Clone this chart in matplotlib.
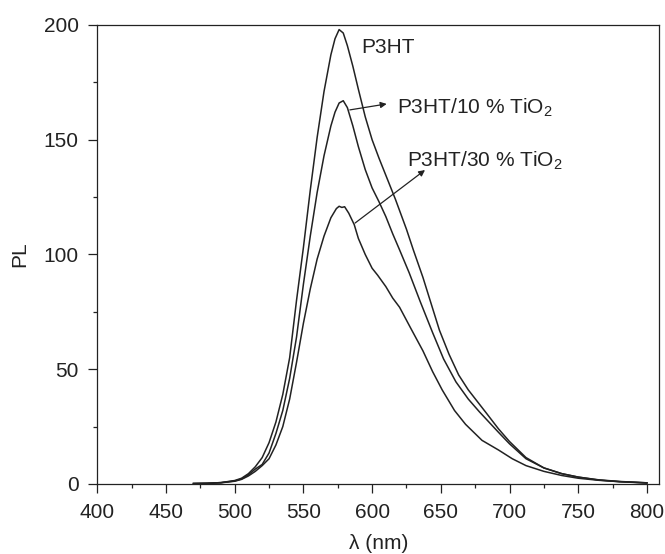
import matplotlib
matplotlib.use("Agg")
import matplotlib.pyplot as plt
from matplotlib.ticker import MultipleLocator

# ======================
# DATA
# ======================
wl_p3ht = [470, 480, 490, 500, 505, 510, 515, 520, 525, 530, 535, 540, 545, 550, 555, 560,
           565, 570, 573, 576, 579, 582, 586, 590, 595, 600, 605, 610, 617, 625, 630, 637,
           643, 649, 656, 663, 670, 683, 692, 700, 712, 725, 738, 750, 765, 780, 800]
pl_p3ht = [0.2, 0.3, 0.6, 1.5, 2.5, 4.5, 7.5, 11.5, 18, 27, 39, 55, 80, 103, 128, 151,
           171, 187, 194, 198, 196.5, 191, 182, 172, 160, 150, 142, 134.5, 124, 111, 102, 90,
           78.5, 67, 56.5, 47.5, 41, 31, 24, 18.5, 11.5, 7, 4.5, 3, 1.8, 1.1, 0.5]

wl_10 = [470, 480, 490, 500, 505, 510, 515, 520, 525, 530, 535, 540, 545, 550, 555, 560,
         565, 570, 573, 576, 579, 582, 586, 590, 595, 600, 605, 610, 615, 620, 627, 635,
         644, 652, 661, 670, 678, 692, 700, 712, 725, 738, 750, 765, 780, 800]
pl_10 = [0.2, 0.3, 0.6, 1.3, 2.2, 4, 6.5, 8.5, 13.5, 22, 32, 46, 64, 87, 108, 127,
         143, 156, 162, 166, 167, 164, 156, 147, 137, 129, 123, 116.5, 109, 102, 92, 79.5,
         66, 54.5, 44.5, 37, 31.5, 22.5, 17.5, 11, 7, 4.5, 3, 1.7, 1, 0.5]

wl_30 = [470, 480, 490, 500, 505, 510, 515, 520, 525, 530, 535, 540, 545, 550, 555, 560,
         565, 570, 574, 576, 578, 580, 583, 587, 590, 595, 600, 604, 610, 615, 620, 628,
         637, 644, 651, 660, 668, 680, 692, 702, 712, 725, 738, 750, 765, 780, 800]
pl_30 = [0.2, 0.3, 0.5, 1.2, 2, 3.5, 5.5, 8, 11, 17, 25, 37, 53, 70, 85, 98,
         108, 116, 120, 121, 120.5, 120.8, 118, 113, 107, 100, 94, 91, 86, 81, 77, 68,
         58, 49, 41, 32, 26, 19, 14.8, 11, 8, 5.5, 3.7, 2.5, 1.6, 1, 0.4]

# ======================
# STYLE
# ======================
plt.rcParams['font.family'] = ['Liberation Sans', 'DejaVu Sans']
plt.rcParams['mathtext.default'] = 'regular'
FS = 15
INK = '#222222'

fig = plt.figure(figsize=(6.65, 5.54), dpi=100)
ax = fig.add_axes([0.1463, 0.1264, 0.8451, 0.8285])

for wl, pl in [(wl_p3ht, pl_p3ht), (wl_10, pl_10), (wl_30, pl_30)]:
    ax.plot(wl, pl, color=INK, lw=1.1)

ax.set_xlim(400, 809)
ax.set_ylim(0, 200)
ax.xaxis.set_major_locator(MultipleLocator(50))
ax.xaxis.set_minor_locator(MultipleLocator(25))
ax.yaxis.set_major_locator(MultipleLocator(50))
ax.yaxis.set_minor_locator(MultipleLocator(25))
ax.tick_params(which='both', direction='out', color=INK, width=0.9,
               labelsize=FS, labelcolor=INK, top=False, right=False)
ax.tick_params(which='major', length=6.5, pad=7)
ax.tick_params(which='minor', length=3)
for s in ax.spines.values():
    s.set_color(INK)
    s.set_linewidth(0.9)

ax.set_xlabel('λ (nm)', fontsize=FS, color=INK, labelpad=9)
ax.set_ylabel('PL', fontsize=FS, color=INK, labelpad=10)

# ======================
# LABELS + ARROWS
# ======================
ax.text(592.4, 187.7, 'P3HT', fontsize=FS, color=INK, va='baseline')
ax.text(617.9, 161.2, 'P3HT/10 % TiO$_2$', fontsize=FS, color=INK, va='baseline')
ax.text(625.5, 138.3, 'P3HT/30 % TiO$_2$', fontsize=FS, color=INK, va='baseline')

arrow = dict(arrowstyle='-|>', color=INK, lw=0.9, mutation_scale=9,
             shrinkA=0, shrinkB=0)
ax.annotate('', xy=(610.6, 165.6), xytext=(583.8, 163.0), arrowprops=arrow)
ax.annotate('', xy=(638.5, 136.8), xytext=(587.6, 113.7), arrowprops=arrow)

fig.savefig('out.png', dpi=100)
